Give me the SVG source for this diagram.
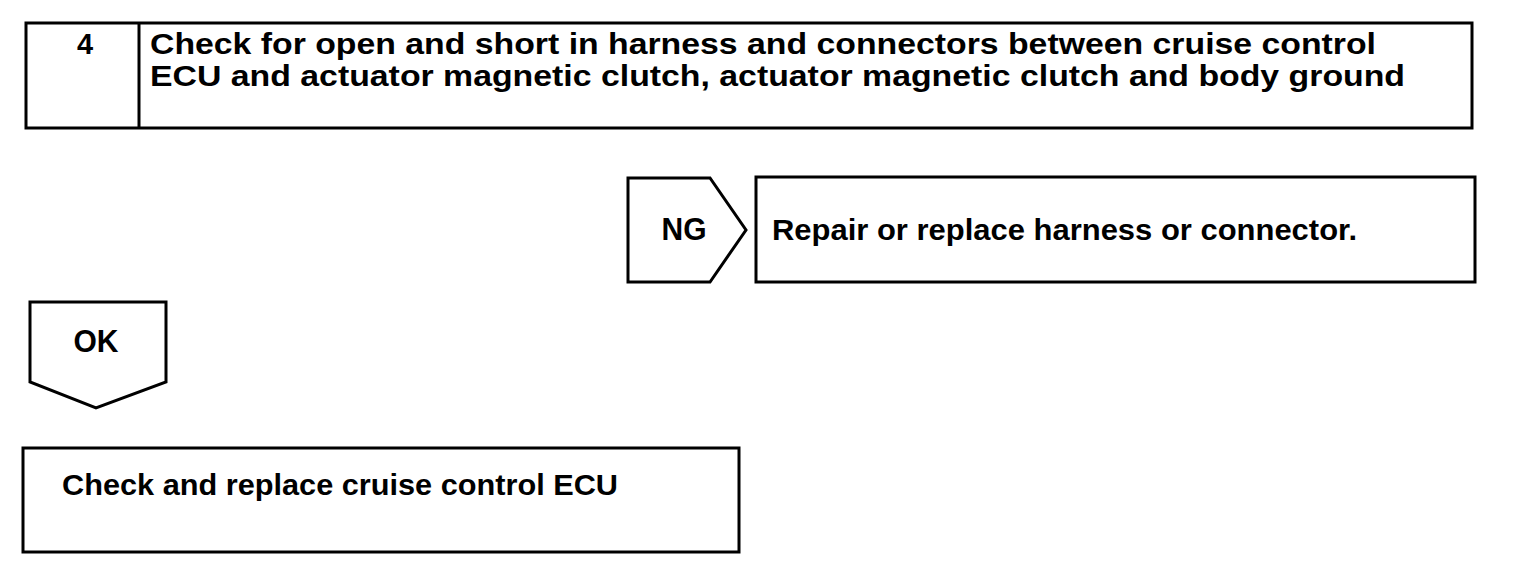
<svg xmlns="http://www.w3.org/2000/svg" width="1520" height="582" viewBox="0 0 1520 582">
<style>
.box{fill:#fff;stroke:#000;stroke-width:3}
.t{font-family:"Liberation Sans",Arial,sans-serif;font-weight:bold;font-size:29px;fill:#000}
.lbl{font-size:31px}
</style>
<rect width="1520" height="582" fill="#fff"/>
<g id="step4">
<rect class="box" x="26" y="23" width="1446" height="105"/>
<line x1="139" y1="23" x2="139" y2="128" stroke="#000" stroke-width="3"/>
<text class="t" x="85" y="54" text-anchor="middle">4</text>
<text class="t" x="150" y="54" textLength="1226" lengthAdjust="spacingAndGlyphs">Check for open and short in harness and connectors between cruise control</text>
<text class="t" x="150" y="86" textLength="1255" lengthAdjust="spacingAndGlyphs">ECU and actuator magnetic clutch, actuator magnetic clutch and body ground</text>
</g>
<g id="connectors">
<g id="ng">
<polygon class="box" points="628,178 710,178 746,230 710,282 628,282"/>
<text class="t lbl" x="684" y="240" text-anchor="middle" textLength="45" lengthAdjust="spacingAndGlyphs">NG</text>
</g>
<g id="ok">
<polygon class="box" points="30,302 166,302 166,382 96,408 30,382"/>
<text class="t lbl" x="96" y="352" text-anchor="middle" textLength="45" lengthAdjust="spacingAndGlyphs">OK</text>
</g>
</g>
<g id="repair">
<rect class="box" x="756" y="177" width="719" height="105"/>
<text class="t" x="772" y="240" textLength="585" lengthAdjust="spacingAndGlyphs">Repair or replace harness or connector.</text>
</g>
<g id="replace">
<rect class="box" x="23" y="448" width="716" height="104"/>
<text class="t" x="62" y="495" textLength="556" lengthAdjust="spacingAndGlyphs">Check and replace cruise control ECU</text>
</g>
</svg>
